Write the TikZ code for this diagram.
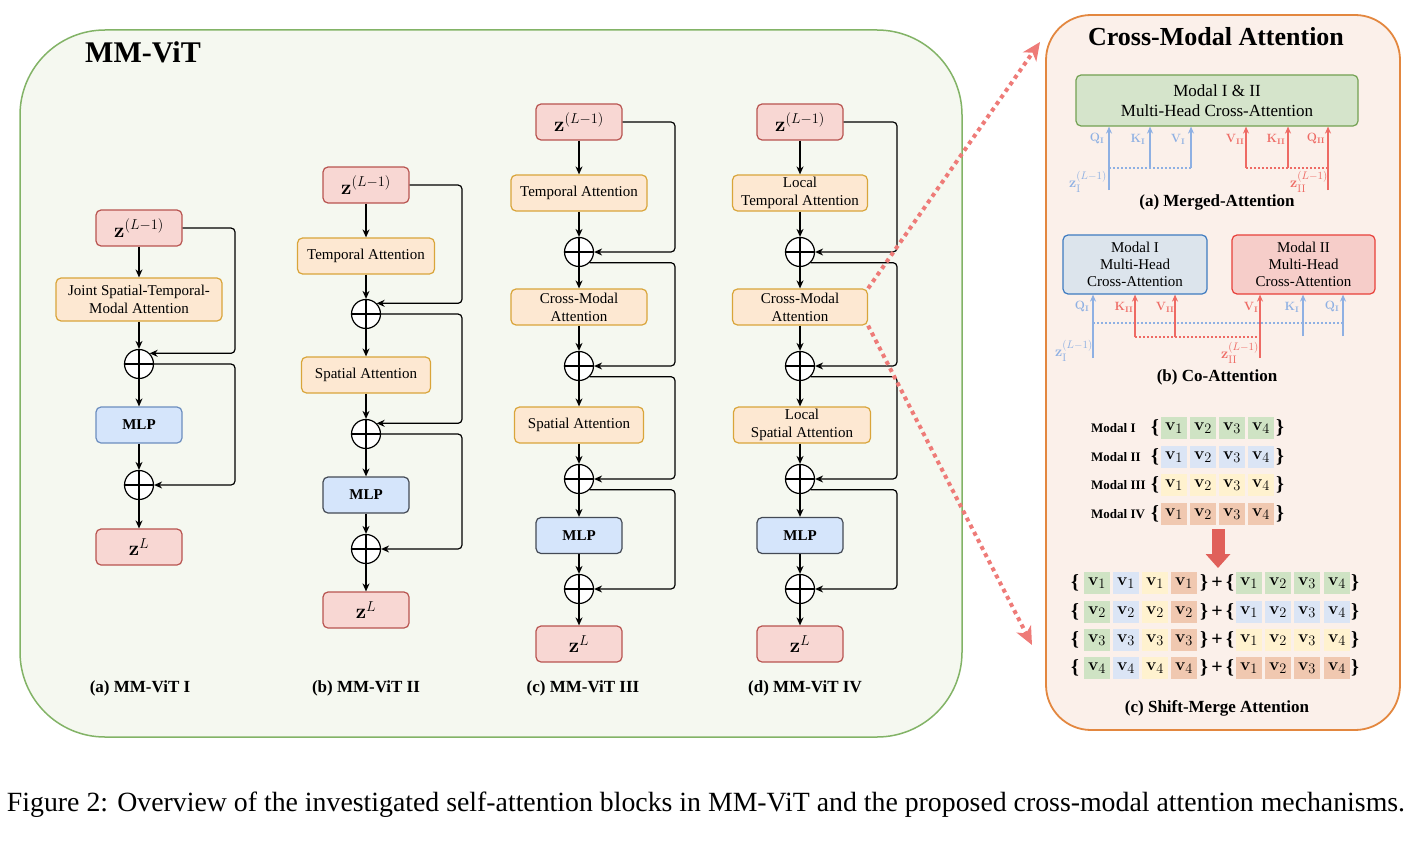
\documentclass[tikz,border=0pt]{standalone}
\usepackage{amsmath}
\usepackage[no-math]{fontspec}
\setmainfont{Liberation Serif}
\usetikzlibrary{arrows.meta,positioning,calc}

\definecolor{gfill}{HTML}{F5F8F0}
\definecolor{gdraw}{HTML}{82B366}
\definecolor{ofill}{HTML}{FBF0EA}
\definecolor{odraw}{HTML}{E3873F}
\definecolor{zfill}{HTML}{F8D7D3}
\definecolor{zdraw}{HTML}{B85450}
\definecolor{attfill}{HTML}{FDE8D2}
\definecolor{attdraw}{HTML}{D9A53A}
\definecolor{mlpfill}{HTML}{D5E5FB}
\definecolor{mlpblue}{HTML}{6C8EBF}
\definecolor{mlpdark}{HTML}{444A55}
\definecolor{mgfill}{HTML}{D5E4CB}
\definecolor{mgdraw}{HTML}{73A152}
\definecolor{cIfill}{HTML}{DCE4EC}
\definecolor{cIdraw}{HTML}{3E7BC0}
\definecolor{cIIfill}{HTML}{F6CDC9}
\definecolor{cIIdraw}{HTML}{E8403A}
\definecolor{blu}{HTML}{8EB0E3}
\definecolor{rd}{HTML}{EE6A64}
\definecolor{cg}{HTML}{CFE3C4}
\definecolor{cb}{HTML}{DBE5F5}
\definecolor{cy}{HTML}{FFF2CF}
\definecolor{co}{HTML}{F0C8B0}
\definecolor{bigred}{HTML}{E0605A}
\definecolor{dotred}{HTML}{EE7B78}

\tikzset{
  box/.style={draw, rounded corners=5pt, line width=1.2pt, minimum height=36pt,
    align=center, inner sep=1pt, font=\fontsize{15}{18}\selectfont},
  zbox/.style={box, fill=zfill, draw=zdraw, minimum width=86pt, font=\fontsize{20}{24}\selectfont},
  attbox/.style={box, fill=attfill, draw=attdraw},
  mlpbox/.style={box, fill=mlpfill, draw=mlpdark, minimum width=86pt, font=\fontsize{15}{18}\selectfont\bfseries},
  plus/.style={circle, draw, fill=white, line width=1.2pt, minimum size=29pt, inner sep=0pt,
    path picture={\draw[line width=1.2pt] (path picture bounding box.north) -- (path picture bounding box.south)
      (path picture bounding box.west) -- (path picture bounding box.east);}},
  flow/.style={-{Stealth[length=8pt,width=7pt]}, line width=1.2pt},
  skip/.style={flow, rounded corners=4pt},
  colcap/.style={font=\fontsize{17}{20}\selectfont\bfseries},
  lbl/.style={font=\fontsize{12}{13}\selectfont\bfseries, inner sep=0pt},
  zlbl/.style={font=\fontsize{15}{16}\selectfont, inner sep=0pt},
  barrow/.style={draw=blu, line width=2pt, -{Stealth[length=7pt,width=6pt]}},
  rarrow/.style={draw=rd, line width=2pt, -{Stealth[length=7pt,width=6pt]}},
  bdot/.style={draw=blu, line width=1.4pt, dash pattern=on 2pt off 2pt},
  rdot/.style={draw=rd, line width=1.4pt, dash pattern=on 2pt off 2pt},
  cell/.style={minimum width=26pt, minimum height=22pt, inner sep=0pt, font=\fontsize{19}{21}\selectfont},
  brace/.style={inner sep=0pt, font=\fontsize{20}{23}\selectfont\bfseries},
  mlab/.style={inner sep=0pt, anchor=west, font=\fontsize{13}{15}\selectfont\bfseries},
  dotarrow/.style={draw=dotred, line width=4pt, dash pattern=on 4pt off 4pt,
    -{Stealth[length=18pt,width=16pt,inset=5pt]}},
}

\begin{document}
\begin{tikzpicture}[x=1pt,y=-1pt]
    \useasboundingbox (0,0) rectangle (1412,840);

    % Panels
    \draw[fill=gfill, draw=gdraw, line width=1.5pt, rounded corners=85pt] (20,30) rectangle (962,737);
    \draw[fill=ofill, draw=odraw, line width=1.8pt, rounded corners=45pt] (1046,15) rectangle (1400,730);
    \node[font=\fontsize{30}{36}\selectfont\bfseries] (mmvit) at (143,52) {MM-ViT};
    \node[font=\fontsize{26}{31}\selectfont\bfseries] (cmtitle) at (1216,37) {Cross-Modal Attention};

    % (a) MM-ViT I
    \node[zbox] (za1) at (139,228) {$\mathbf{z}^{(L-1)}$};
    \node[attbox, minimum width=166pt, minimum height=43pt] (jsa) at (139,299.5) {Joint Spatial-Temporal-\\Modal Attention};
    \node[plus] (pa1) at (139,364) {};
    \node[mlpbox, draw=mlpblue] (mlpa) at (139,425) {MLP};
    \node[plus] (pa2) at (139,485) {};
    \node[zbox] (zLa) at (139,547) {$\mathbf{z}^{L}$};
    \coordinate (ra) at (235,0);
    \draw[flow] (za1) -- (jsa);
    \draw[flow] (jsa) -- (pa1);
    \draw[flow] (pa1) -- (mlpa);
    \draw[flow] (mlpa) -- (pa2);
    \draw[flow] (pa2) -- (zLa);
    \draw[skip] (za1.east) -| (ra |- pa1.45) -- (pa1.45);
    \draw[skip] (pa1.east) -| (ra |- pa2.east) -- (pa2.east);
    \node[colcap] (capa) at (140,688) {(a) MM-ViT I};

    % (b) MM-ViT II
    \node[zbox] (zb1) at (366,185) {$\mathbf{z}^{(L-1)}$};
    \node[attbox, minimum width=137pt] (tb) at (366,256) {Temporal Attention};
    \node[plus] (pb1) at (366,314) {};
    \node[attbox, minimum width=129pt] (sb) at (366,375) {Spatial Attention};
    \node[plus] (pb2) at (366,434) {};
    \node[mlpbox] (mlpb) at (366,495) {MLP};
    \node[plus] (pb3) at (366,549) {};
    \node[zbox] (zLb) at (366,610) {$\mathbf{z}^{L}$};
    \coordinate (rb) at (462,0);
    \draw[flow] (zb1) -- (tb);
    \draw[flow] (tb) -- (pb1);
    \draw[flow] (pb1) -- (sb);
    \draw[flow] (sb) -- (pb2);
    \draw[flow] (pb2) -- (mlpb);
    \draw[flow] (mlpb) -- (pb3);
    \draw[flow] (pb3) -- (zLb);
    \draw[skip] (zb1.east) -| (rb |- pb1.45) -- (pb1.45);
    \draw[skip] (pb1.east) -| (rb |- pb2.45) -- (pb2.45);
    \draw[skip] (pb2.east) -| (rb |- pb3.east) -- (pb3.east);
    \node[colcap] (capb) at (366,688) {(b) MM-ViT II};

    % (c) MM-ViT III
    \node[zbox] (zc1) at (579,122) {$\mathbf{z}^{(L-1)}$};
    \node[attbox, minimum width=136pt] (tc) at (579,193) {Temporal Attention};
    \node[plus] (pc1) at (579,252) {};
    \node[attbox, minimum width=136pt] (cmc) at (579,307) {Cross-Modal\\Attention};
    \node[plus] (pc2) at (579,366) {};
    \node[attbox, minimum width=129pt] (sc) at (579,425) {Spatial Attention};
    \node[plus] (pc3) at (579,479) {};
    \node[mlpbox] (mlpc) at (579,535.5) {MLP};
    \node[plus] (pc4) at (579,589) {};
    \node[zbox] (zLc) at (579,644) {$\mathbf{z}^{L}$};
    \coordinate (rc) at (675,0);
    \draw[flow] (zc1) -- (tc);
    \draw[flow] (tc) -- (pc1);
    \draw[flow] (pc1) -- (cmc);
    \draw[flow] (cmc) -- (pc2);
    \draw[flow] (pc2) -- (sc);
    \draw[flow] (sc) -- (pc3);
    \draw[flow] (pc3) -- (mlpc);
    \draw[flow] (mlpc) -- (pc4);
    \draw[flow, line width=2.2pt] (pc4) -- (zLc);
    \draw[skip] (zc1.east) -| (rc |- pc1.east) -- (pc1.east);
    \draw[skip] (pc1.-45) -| (rc |- pc2.east) -- (pc2.east);
    \draw[skip] (pc2.-45) -| (rc |- pc3.east) -- (pc3.east);
    \draw[skip] (pc3.-45) -| (rc |- pc4.east) -- (pc4.east);
    \node[colcap] (capc) at (583,688) {(c) MM-ViT III};

    % (d) MM-ViT IV
    \node[zbox] (zd1) at (800,122) {$\mathbf{z}^{(L-1)}$};
    \node[attbox, minimum width=135pt] (ltd) at (800,193) {Local\\Temporal Attention};
    \node[plus] (pd1) at (800,252) {};
    \node[attbox, minimum width=135pt] (cmd) at (800,307) {Cross-Modal\\Attention};
    \node[plus] (pd2) at (800,366) {};
    \node[attbox, minimum width=137pt] (lsd) at (802,425) {Local\\Spatial Attention};
    \node[plus] (pd3) at (800,479) {};
    \node[mlpbox] (mlpd) at (800,535.5) {MLP};
    \node[plus] (pd4) at (800,589) {};
    \node[zbox] (zLd) at (800,644) {$\mathbf{z}^{L}$};
    \coordinate (rd) at (897,0);
    \draw[flow] (zd1) -- (ltd);
    \draw[flow] (ltd) -- (pd1);
    \draw[flow] (pd1) -- (cmd);
    \draw[flow] (cmd) -- (pd2);
    \draw[flow] (pd2) -- (pd2 |- lsd.north);
    \draw[flow] (pd3 |- lsd.south) -- (pd3);
    \draw[flow] (pd3) -- (mlpd);
    \draw[flow] (mlpd) -- (pd4);
    \draw[flow, line width=2.2pt] (pd4) -- (zLd);
    \draw[skip] (zd1.east) -| (rd |- pd1.east) -- (pd1.east);
    \draw[skip] (pd1.-45) -| (rd |- pd2.east) -- (pd2.east);
    \draw[skip] (pd2.-45) -| (rd |- pd3.east) -- (pd3.east);
    \draw[skip] (pd3.-45) -| (rd |- pd4.east) -- (pd4.east);
    \node[colcap] (capd) at (805,688) {(d) MM-ViT IV};

    % Links to the cross-modal panel
    \coordinate (uptip) at (1040,42);
    \coordinate (lowtip) at (1032,645);
    \draw[dotarrow] (cmd.north east) -- (uptip);
    \draw[dotarrow] (cmd.south east) -- (lowtip);

    % (a) Merged-Attention
    \node[box, fill=mgfill, draw=mgdraw, minimum width=282pt, minimum height=51pt,
      font=\fontsize{17}{20}\selectfont] (mha) at (1217,100.5) {Modal I \& II\\Multi-Head Cross-Attention};
    \coordinate (qa1) at (1109,190);
    \coordinate (ka1) at (1150,168);
    \coordinate (va1) at (1191,168);
    \coordinate (va2) at (1246,168);
    \coordinate (ka2) at (1288,168);
    \coordinate (qa2) at (1328,190);
    \draw[bdot] (qa1 |- ka1) -- (va1);
    \draw[rdot] (va2) -- (qa2 |- ka2);
    \foreach \p in {qa1,ka1,va1} \draw[barrow] (\p) -- (\p |- mha.south);
    \foreach \p in {va2,ka2,qa2} \draw[rarrow] (\p) -- (\p |- mha.south);
    \node[lbl, text=blu] (lqa1) at (1097,139) {$\mathbf{Q}_{\mathbf{I}}$};
    \node[lbl, text=blu] (lka1) at (1138,139) {$\mathbf{K}_{\mathbf{I}}$};
    \node[lbl, text=blu] (lva1) at (1178,139) {$\mathbf{V}_{\mathbf{I}}$};
    \node[lbl, text=rd] (lva2) at (1235,139) {$\mathbf{V}_{\mathbf{II}}$};
    \node[lbl, text=rd] (lka2) at (1276,139) {$\mathbf{K}_{\mathbf{II}}$};
    \node[lbl, text=rd] (lqa2) at (1316,139) {$\mathbf{Q}_{\mathbf{II}}$};
    \node[zlbl, text=blu] (zIa) at (1088,182) {$\mathbf{z}_{\mathrm{I}}^{(L-1)}$};
    \node[zlbl, text=rd] (zIIa) at (1309,182) {$\mathbf{z}_{\mathrm{II}}^{(L-1)}$};
    \node[colcap] (capma) at (1217,202) {(a) Merged-Attention};

    % (b) Co-Attention
    \node[box, fill=cIfill, draw=cIdraw, minimum width=144pt, minimum height=59pt,
      font=\fontsize{15}{17}\selectfont] (mI) at (1135,264.5) {Modal I\\Multi-Head\\Cross-Attention};
    \node[box, fill=cIIfill, draw=cIIdraw, minimum width=143pt, minimum height=59pt,
      font=\fontsize{15}{17}\selectfont] (mII) at (1303.5,264.5) {Modal II\\Multi-Head\\Cross-Attention};
    \coordinate (qb1) at (1093,358);
    \coordinate (kb2) at (1135,337);
    \coordinate (vb2) at (1175,337);
    \coordinate (vb1) at (1260,358);
    \coordinate (kb1) at (1303,336);
    \coordinate (qb3) at (1343,336);
    \draw[bdot] (1093,323) -- (1343,323);
    \draw[rdot] (kb2) -- (vb1 |- kb2);
    \draw[barrow] (qb1) -- (qb1 |- mI.south);
    \draw[rarrow] (kb2) -- (kb2 |- mI.south);
    \draw[rarrow] (vb2) -- (vb2 |- mI.south);
    \draw[rarrow] (vb1) -- (vb1 |- mII.south);
    \draw[barrow] (kb1) -- (kb1 |- mII.south);
    \draw[barrow] (qb3) -- (qb3 |- mII.south);
    \node[lbl, text=blu] (lqb1) at (1082,307) {$\mathbf{Q}_{\mathbf{I}}$};
    \node[lbl, text=rd] (lkb2) at (1124,307) {$\mathbf{K}_{\mathbf{II}}$};
    \node[lbl, text=rd] (lvb2) at (1165,307) {$\mathbf{V}_{\mathbf{II}}$};
    \node[lbl, text=rd] (lvb1) at (1251,307) {$\mathbf{V}_{\mathbf{I}}$};
    \node[lbl, text=blu] (lkb1) at (1292,307) {$\mathbf{K}_{\mathbf{I}}$};
    \node[lbl, text=blu] (lqb3) at (1332,307) {$\mathbf{Q}_{\mathbf{I}}$};
    \node[zlbl, text=blu] (zIb) at (1074,351) {$\mathbf{z}_{\mathrm{I}}^{(L-1)}$};
    \node[zlbl, text=rd] (zIIb) at (1240,353) {$\mathbf{z}_{\mathrm{II}}^{(L-1)}$};
    \node[colcap] (capco) at (1217,377) {(b) Co-Attention};

    % (c) Shift-Merge Attention
    \foreach \r/\y/\col/\nm in {1/428/cg/I, 2/457/cb/II, 3/485/cy/III, 4/514/co/IV} {
        \node[mlab] (ml\r) at (1091,\y) {Modal \nm};
        \node[brace] (mlb\r) at (1155,\y) {\{};
        \foreach \x [count=\k] in {1174,1203,1232,1261}
            \node[cell, fill=\col] (m\r c\k) at (\x,\y) {$\mathbf{v}_{\k}$};
        \node[brace] (mrb\r) at (1280,\y) {\}};
    }
    \coordinate (ds) at (1218,529);
    \coordinate (de) at (1218,568);
    \draw[draw=bigred, line width=13pt, -{Triangle[length=14pt,width=24pt]}] (ds) -- (de);
    \foreach \r/\y/\col in {1/583/cg, 2/612/cb, 3/640/cy, 4/668/co} {
        \node[brace] (slb\r) at (1075,\y) {\{};
        \foreach \x/\c [count=\k] in {1097/cg,1126/cb,1155/cy,1184/co}
            \node[cell, fill=\c] (s\r a\k) at (\x,\y) {$\mathbf{v}_{\r}$};
        \node[brace] (srb\r) at (1204,\y) {\}};
        \node[brace] (plus\r) at (1217,\y) {+};
        \node[brace] (tlb\r) at (1230,\y) {\{};
        \foreach \x [count=\k] in {1249,1278,1307,1337}
            \node[cell, fill=\col] (s\r b\k) at (\x,\y) {$\mathbf{v}_{\k}$};
        \node[brace] (trb\r) at (1355,\y) {\}};
    }
    \node[colcap] (capsm) at (1217,708) {(c) Shift-Merge Attention};

    % Figure caption
    \node[font=\fontsize{27.8}{33}\selectfont] (figcap) at (706,805) {Figure 2: Overview of the investigated self-attention blocks in MM-ViT and the proposed cross-modal attention mechanisms.};
\end{tikzpicture}
\end{document}
